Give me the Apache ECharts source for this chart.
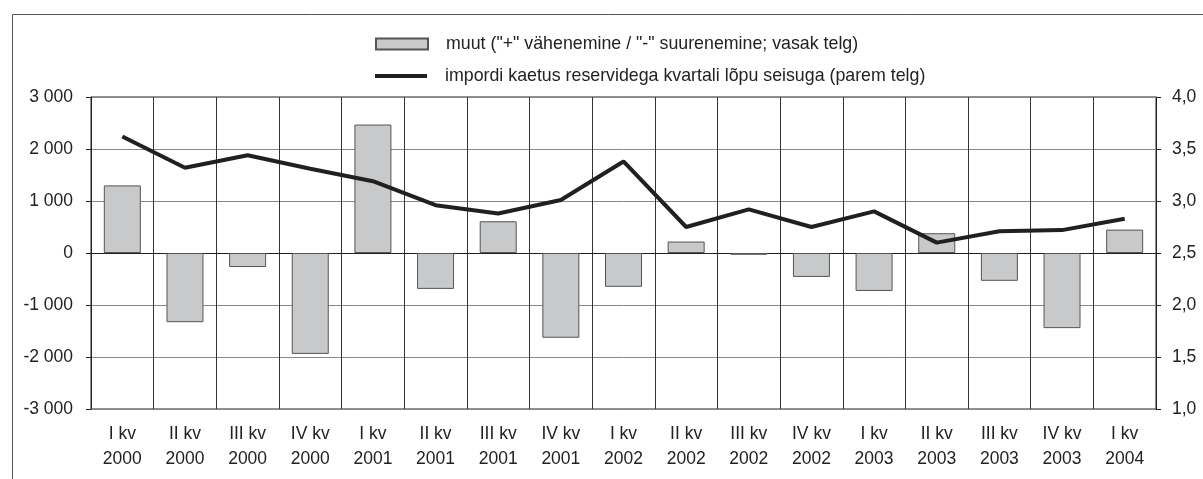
<!DOCTYPE html>
<html>
<head>
<meta charset="utf-8">
<script src="https://cdn.jsdelivr.net/npm/echarts@6/dist/echarts.min.js"></script>
<style>
  html, body { margin: 0; padding: 0; background: #fff; }
  #chart { width: 1203px; height: 479px; }
</style>
</head>
<body>
<div id="chart"></div>
<script>
// kvartalid ja aastad
const quarters = ["I kv", "II kv", "III kv", "IV kv", "I kv", "II kv", "III kv", "IV kv", "I kv", "II kv", "III kv", "IV kv", "I kv", "II kv", "III kv", "IV kv", "I kv"];
const years = ["2000", "2000", "2000", "2000", "2001", "2001", "2001", "2001", "2002", "2002", "2002", "2002", "2003", "2003", "2003", "2003", "2004"];
// muut (vasak telg)
const change = [1300, -1330, -270, -1940, 2470, -690, 610, -1630, -650, 220, -35, -460, -730, 380, -535, -1445, 450];
// impordi kaetus (parem telg)
const coverage = [3.62, 3.32, 3.44, 3.31, 3.19, 2.96, 2.88, 3.01, 3.38, 2.75, 2.92, 2.75, 2.90, 2.60, 2.71, 2.72, 2.83];

const barName = 'muut ("+" vähenemine / "-" suurenemine; vasak telg)';
const lineName = "impordi kaetus reservidega kvartali lõpu seisuga (parem telg)";

const categories = quarters.map((q, i) => q + "\n" + years[i]);
const font = "Liberation Sans, Arial, sans-serif";
const legendText = { fontSize: 17.8, color: "#222", padding: [0, 0, 0, 13] };

let myChart = echarts.init(document.getElementById("chart"));
myChart.setOption({
  animation: false,
  textStyle: { fontFamily: font },
  graphic: [
    {
      type: "rect",
      left: 10,
      top: 12,
      z: -10,
      shape: { width: 1250, height: 520 },
      style: { fill: "none", stroke: "#555", lineWidth: 1 },
    },
  ],
  // kaks legendi, et ikoonide kõrgus erineks
  legend: [
    {
      left: 375,
      top: 35,
      padding: 0,
      itemWidth: 52,
      itemHeight: 11,
      textStyle: legendText,
      data: [{ name: barName, icon: "rect" }],
    },
    {
      left: 375,
      top: 67,
      padding: 0,
      itemWidth: 52,
      itemHeight: 4,
      textStyle: legendText,
      data: [{ name: lineName, icon: "rect" }],
    },
  ],
  grid: {
    left: 91,
    right: 47,
    top: 97,
    bottom: 70,
    show: true,
    borderColor: "#222",
    borderWidth: 1,
  },
  xAxis: {
    type: "category",
    data: categories,
    axisTick: { show: false },
    axisLine: { lineStyle: { color: "#222" } },
    splitLine: { show: true, interval: 0, lineStyle: { color: "#333" } },
    axisLabel: {
      interval: 0,
      fontSize: 17.5,
      color: "#222",
      lineHeight: 25,
      margin: 13,
    },
  },
  yAxis: [
    {
      type: "value",
      min: -3000,
      max: 3000,
      interval: 1000,
      axisLine: { show: true, lineStyle: { color: "#222" } },
      axisTick: { show: true, length: 5, lineStyle: { color: "#222" } },
      splitLine: { lineStyle: { color: "#888" } },
      axisLabel: {
        fontSize: 17.5,
        color: "#222",
        margin: 18,
        formatter: (v) => {
          const s = Math.abs(v).toString().replace(/\B(?=(\d{3})+(?!\d))/g, " ");
          return (v < 0 ? "-" : "") + s;
        },
      },
    },
    {
      type: "value",
      min: 1,
      max: 4,
      interval: 0.5,
      position: "right",
      axisLine: { show: true, lineStyle: { color: "#222" } },
      axisTick: { show: true, length: 5, lineStyle: { color: "#222" } },
      splitLine: { show: false },
      axisLabel: {
        fontSize: 17.5,
        color: "#222",
        margin: 16,
        formatter: (v) => v.toFixed(1).replace(".", ","),
      },
    },
  ],
  series: [
    {
      name: barName,
      type: "bar",
      yAxisIndex: 0,
      barWidth: 37,
      data: change,
      itemStyle: { color: "#c8c9ca", borderColor: "#555", borderWidth: 1 },
    },
    {
      name: lineName,
      type: "line",
      yAxisIndex: 1,
      data: coverage,
      symbol: "none",
      itemStyle: { color: "#231f20" },
      lineStyle: { color: "#231f20", width: 4 },
    },
  ],
});

window.addEventListener("resize", () => {
  myChart.resize();
});
</script>
</body>
</html>
